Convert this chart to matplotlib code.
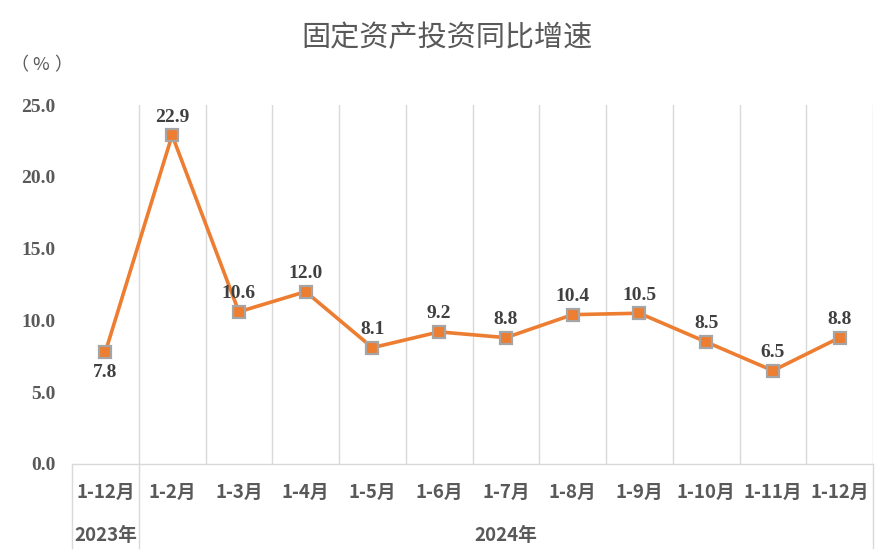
import matplotlib
matplotlib.use("Agg")
import matplotlib.pyplot as plt
import matplotlib.transforms as mtransforms

# data
months = ["1-12月", "1-2月", "1-3月", "1-4月", "1-5月", "1-6月",
          "1-7月", "1-8月", "1-9月", "1-10月", "1-11月", "1-12月"]
growth = [7.8, 22.9, 10.6, 12.0, 8.1, 9.2, 8.8, 10.4, 10.5, 8.5, 6.5, 8.8]
years = ["2023年", "2024年"]
yticks = [0, 5, 10, 15, 20, 25]

cjk = ["Noto Sans CJK SC", "DejaVu Sans"]
serif = ["Liberation Serif", "DejaVu Serif"]
grid_c = "#D9D9D9"
txt_c = "#595959"

fig = plt.figure(figsize=(8.94, 5.55), dpi=100)
ax = fig.add_axes([72/894, 1 - 464/555, (873 - 72)/894, (464 - 105)/555])

x = list(range(len(months)))
ax.set_xlim(-0.5, len(months) - 0.5)
ax.set_ylim(0, 25)

for s in ["top", "left", "right"]:
    ax.spines[s].set_visible(False)
ax.spines["bottom"].set_color(grid_c)
ax.spines["bottom"].set_linewidth(1)

# vertical separators inside the plot
for k in range(len(months)):
    ax.axvline(k + 0.5, color=grid_c, lw=1, zorder=0)

# separators extending below the axis (category / year groups)
trans = mtransforms.blended_transform_factory(ax.transData, ax.transAxes)
for xv in [-0.5, 0.5, len(months) - 0.5]:
    ax.plot([xv, xv], [0, -0.234], transform=trans, color=grid_c, lw=1,
            clip_on=False, zorder=0)

ax.plot(x, growth, color="#ED7D31", lw=2.6, marker="s", markersize=8,
        mfc="#ED7D31", mec="#A5A5A5", mew=1.6, zorder=3, clip_on=False)

for i, v in enumerate(growth):
    off = -15 if i == 0 else 13
    ax.annotate(f"{v:.1f}", (i, v), xytext=(0, off), textcoords="offset points",
                ha="center", va="center", fontsize=14, fontweight="bold",
                family=serif, color="#404040")

ax.set_xticks([])
ax.set_yticks(yticks)
ax.set_yticklabels([f"{t:.1f}" for t in yticks], family=serif,
                   fontweight="bold", fontsize=14, color=txt_c)
ax.tick_params(axis="y", length=0, pad=12)

for i, m in enumerate(months):
    ax.text(i, -0.078, m, transform=trans, ha="center", va="center",
            fontsize=13.5, fontweight="bold", family=cjk, color=txt_c)

ax.text(0, -0.198, years[0], transform=trans, ha="center", va="center",
        fontsize=13.5, fontweight="bold", family=cjk, color=txt_c)
ax.text((1 + len(months) - 1) / 2, -0.198, years[1], transform=trans,
        ha="center", va="center", fontsize=13.5, fontweight="bold",
        family=cjk, color=txt_c)

fig.text(0.5, 1 - 38/555, "固定资产投资同比增速", ha="center", va="center",
         fontsize=21, family=cjk, color=txt_c)
# unit label with wide full-width brackets
for xp, ch in [(19, "（"), (41, "%"), (63, "）")]:
    fig.text(xp/894, 1 - 65/555, ch, ha="center", va="center",
             fontsize=13, family=cjk, color=txt_c)

fig.savefig("out.png", dpi=100)
